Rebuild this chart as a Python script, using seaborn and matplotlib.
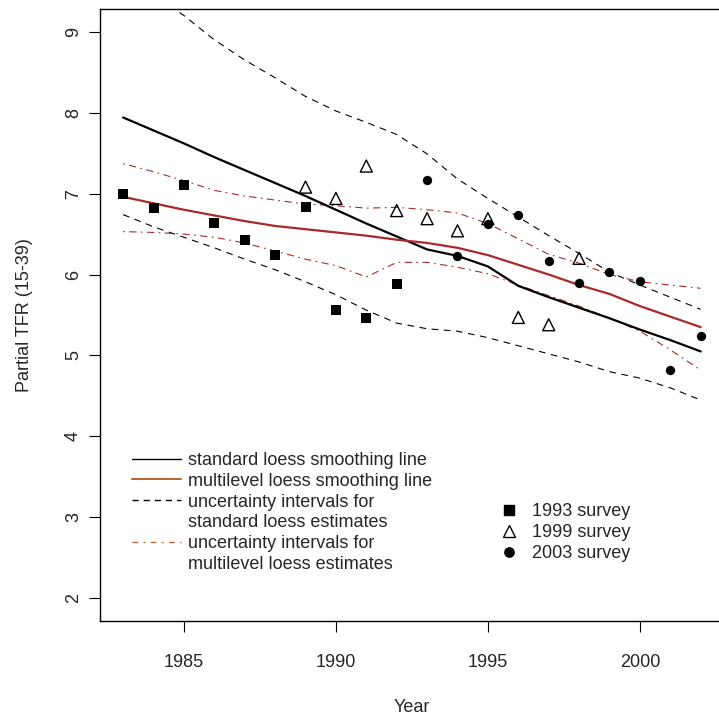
import numpy as np
import pandas as pd
import matplotlib
matplotlib.use("Agg")
import matplotlib.pyplot as plt
from matplotlib.lines import Line2D
import seaborn as sns

# ---------------- data ----------------
years = list(range(1983, 2003))

s1993_year = [1983, 1984, 1985, 1986, 1987, 1988, 1989, 1990, 1991, 1992]
s1993_tfr = [6.99, 6.82, 7.10, 6.64, 6.43, 6.24, 6.83, 5.56, 5.46, 5.88]

s1999_year = [1989, 1990, 1991, 1992, 1993, 1994, 1995, 1996, 1997, 1998]
s1999_tfr = [7.08, 6.94, 7.34, 6.79, 6.69, 6.54, 6.69, 5.47, 5.38, 6.20]

s2003_year = [1993, 1994, 1995, 1996, 1997, 1998, 1999, 2000, 2001, 2002]
s2003_tfr = [7.17, 6.23, 6.62, 6.73, 6.17, 5.89, 6.03, 5.92, 4.82, 5.24]

std_loess = [7.94, 7.78, 7.62, 7.45, 7.29, 7.13, 6.97, 6.80, 6.63, 6.47,
             6.31, 6.23, 6.10, 5.86, 5.72, 5.59, 5.46, 5.32, 5.19, 5.05]
std_upper = [9.75, 9.45, 9.20, 8.90, 8.65, 8.43, 8.20, 8.02, 7.88, 7.73,
             7.49, 7.18, 6.94, 6.71, 6.48, 6.26, 6.03, 5.87, 5.72, 5.57]
std_lower = [6.74, 6.59, 6.46, 6.33, 6.19, 6.06, 5.91, 5.75, 5.56, 5.40,
             5.33, 5.30, 5.22, 5.12, 5.02, 4.92, 4.80, 4.72, 4.60, 4.45]

ml_loess = [6.96, 6.88, 6.80, 6.73, 6.66, 6.60, 6.56, 6.52, 6.48, 6.43,
            6.39, 6.33, 6.24, 6.12, 6.00, 5.87, 5.76, 5.61, 5.48, 5.35]
ml_upper = [7.37, 7.27, 7.16, 7.04, 6.97, 6.92, 6.87, 6.85, 6.82, 6.83,
            6.80, 6.76, 6.63, 6.44, 6.25, 6.14, 6.00, 5.91, 5.87, 5.83]
ml_lower = [6.53, 6.52, 6.50, 6.46, 6.39, 6.29, 6.19, 6.11, 5.97, 6.15,
            6.15, 6.09, 6.01, 5.87, 5.74, 5.61, 5.46, 5.30, 5.07, 4.82]

x_ticks = [1985, 1990, 1995, 2000]
y_ticks = [2, 3, 4, 5, 6, 7, 8, 9]

line_labels = ["standard loess smoothing line",
               "multilevel loess smoothing line",
               "uncertainty intervals for",
               "standard loess estimates",
               "uncertainty intervals for",
               "multilevel loess estimates"]
survey_labels = ["1993 survey", "1999 survey", "2003 survey"]

# ---------------- style ----------------
sns.set_style("white")
plt.rcParams["font.family"] = ["Liberation Sans", "DejaVu Sans"]
plt.rcParams["font.size"] = 13

RED = "#a82a2a"
LEG_RED = "#b3652c"
FS = 13

fig = plt.figure(figsize=(7.19, 7.19), dpi=100)
ax = fig.add_axes([100 / 719, 1 - 621 / 719, 623.8 / 719, 612 / 719])

lines_df = pd.DataFrame({
    "year": years,
    "std": std_loess, "std_up": std_upper, "std_lo": std_lower,
    "ml": ml_loess, "ml_up": ml_upper, "ml_lo": ml_lower,
})

dash = (0, (6, 5))
dotdash = (0, (1.5, 4, 6.5, 4))

sns.lineplot(data=lines_df, x="year", y="std_up", ax=ax, color="black",
             lw=0.8, linestyle=dash)
sns.lineplot(data=lines_df, x="year", y="std_lo", ax=ax, color="black",
             lw=0.8, linestyle=dash)
sns.lineplot(data=lines_df, x="year", y="ml_up", ax=ax, color=RED,
             lw=0.8, linestyle=dotdash)
sns.lineplot(data=lines_df, x="year", y="ml_lo", ax=ax, color=RED,
             lw=0.8, linestyle=dotdash)
sns.lineplot(data=lines_df, x="year", y="std", ax=ax, color="black", lw=1.6)
sns.lineplot(data=lines_df, x="year", y="ml", ax=ax, color=RED, lw=1.6)

d93 = pd.DataFrame({"year": s1993_year, "tfr": s1993_tfr})
d99 = pd.DataFrame({"year": s1999_year, "tfr": s1999_tfr})
d03 = pd.DataFrame({"year": s2003_year, "tfr": s2003_tfr})

sns.scatterplot(data=d93, x="year", y="tfr", ax=ax, marker="s", s=52,
                color="black", edgecolor="black", linewidth=0, zorder=5)
sns.scatterplot(data=d99, x="year", y="tfr", ax=ax, marker="^", s=75,
                facecolor="none", edgecolor="black", linewidth=1.0, zorder=5)
sns.scatterplot(data=d03, x="year", y="tfr", ax=ax, marker="o", s=45,
                color="black", edgecolor="black", linewidth=0, zorder=5)

ax.set_xlim(1982.24, 2002.76)
ax.set_ylim(1.72, 9.28)
ax.set_xticks(x_ticks)
ax.set_xticklabels([str(v) for v in x_ticks], fontsize=FS)
ax.set_yticks(y_ticks)
ax.set_yticklabels([str(v) for v in y_ticks], fontsize=FS, rotation=90,
                   va="center")
ax.tick_params(axis="both", direction="out", length=8, width=0.8,
               color="black", left=True, bottom=True)
ax.tick_params(axis="x", pad=16)
ax.tick_params(axis="y", pad=5)
ax.set_xlabel("Year", fontsize=FS, labelpad=20)
ax.set_ylabel("Partial TFR (15-39)", fontsize=FS, labelpad=23)
for sp in ax.spines.values():
    sp.set_color("black")
    sp.set_linewidth(1.0)
    sp.set_visible(True)

# legend 1: lines
h_lines = [
    Line2D([], [], color="black", lw=1.0),
    Line2D([], [], color=LEG_RED, lw=1.4),
    Line2D([], [], color="black", lw=1.0, linestyle=(0, (4.5, 3.5))),
    Line2D([], [], color="none", lw=0),
    Line2D([], [], color=LEG_RED, lw=1.0, linestyle=(0, (4, 4, 1.2, 4))),
    Line2D([], [], color="none", lw=0),
]
leg1 = ax.legend(h_lines, line_labels, loc="upper left",
                 bbox_to_anchor=(133 / 719 - 0.002, 1 - 452 / 719),
                 bbox_transform=fig.transFigure, frameon=False,
                 fontsize=FS, handlelength=2.75, handletextpad=0.35,
                 labelspacing=0.21, borderpad=0, borderaxespad=0)
ax.add_artist(leg1)

h_pts = [
    Line2D([], [], color="black", marker="s", ms=7.2, lw=0),
    Line2D([], [], color="black", marker="^", ms=8.7, lw=0,
           markerfacecolor="none", markeredgewidth=1.0),
    Line2D([], [], color="black", marker="o", ms=6.7, lw=0),
]
leg2 = ax.legend(h_pts, survey_labels, loc="upper left",
                 bbox_to_anchor=(498 / 719, 1 - 503 / 719),
                 bbox_transform=fig.transFigure, frameon=False,
                 fontsize=FS, handlelength=1.2, handletextpad=0.7,
                 labelspacing=0.22, borderpad=0, borderaxespad=0)

fig.savefig("out.png", dpi=100)
